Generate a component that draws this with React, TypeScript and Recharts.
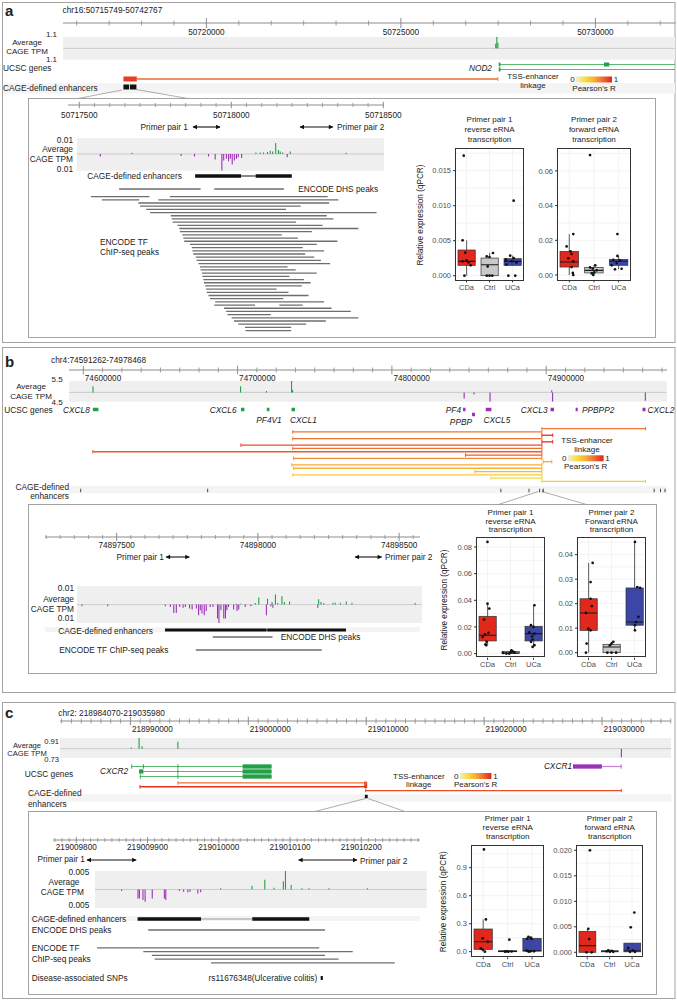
import React from "react";
import {
  ComposedChart,
  Line,
  Bar,
  Cell,
  Scatter,
  XAxis,
  YAxis,
  CartesianGrid,
  ReferenceLine,
} from "recharts";

const FONT = "'Liberation Sans', Arial, Helvetica, sans-serif";
const INK = "#222";
const GREEN = "#23a046";
const GREEN_LT = "#5bb96f";
const PURPLE = "#9a32b6";
const PURPLE_LT = "#c47fd6";
const PEAK = "#6e6e6e";
const AXIS = "#8c8c8c";
const FRAME = "#a3a3a3";
const ANCHOR = "#e5401d";
const M0 = { top: 0, right: 0, bottom: 0, left: 0 };

const GROUPS = ["CDa", "Ctrl", "UCa"];
const GROUP_COLORS = ["#e2271d", "#c9c9c9", "#3b46a6"];

// Pearson's R colour ramp (legend + linkage lines)
const R_STOPS: [number, string][] = [
  [0, "#efeed6"],
  [0.25, "#f7df3e"],
  [0.5, "#f8ad38"],
  [0.75, "#ef6a32"],
  [1, "#e2231a"],
];

// ---------------- panel a ----------------
const A_MAJOR = [50720000, 50725000, 50730000];
const A_CAGE = [[50727440, 0.45], [50727468, 1.1], [50727495, 0.55]];
const A_TX = [[50727525, 50766988], [50727525, 50766988]];
const A_EXONS = [
  [[50727515, 50727560], [50730222, 50730356]],
  [[50727515, 50727560]],
];
const A_LINKS = [[50718201, 50727491, 0.75]];
const A_ANCHOR = [50717867, 50718214];
const A_ENH = [[50717867, 50718013], [50718034, 50718201]];

const IA_MAJOR = [50717500, 50718000, 50718500];
const IA_PRIMERS = [[50717874, 50717963], [50718226, 50718334]];
const IA_CAGE = [
  [50717568, -0.0015], [50717672, 0.0008], [50717834, -0.0012], [50717878, -0.0015],
  [50717924, -0.0015], [50717946, -0.0035], [50717968, -0.0105], [50717974, -0.004],
  [50717983, -0.003], [50717990, -0.0045], [50717996, -0.003], [50718002, -0.0065],
  [50718009, -0.004], [50718016, -0.003], [50718022, -0.002], [50718033, -0.0025],
  [50718080, 0.001], [50718094, 0.001], [50718105, 0.001], [50718118, 0.0012],
  [50718127, 0.002], [50718135, 0.0015], [50718145, 0.0069], [50718154, 0.0025],
  [50718160, 0.0015], [50718168, 0.001], [50718183, -0.002], [50718193, 0.0015],
  [50718377, 0.0008],
];
const IA_ENH = [[50717881, 50718032], [50718080, 50718199]];
const IA_DHS = [[50717631, 50717899], [50717944, 50718173]];
const IA_TF = [
  [[50717538, 50717731], [50717798, 50718317]],
  [[50717574, 50717697], [50717760, 50718352]],
  [[50717694, 50718322]], [[50717700, 50718228]], [[50717720, 50718180]],
  [[50717733, 50718478]], [[50717801, 50718314]], [[50717804, 50718336]],
  [[50717807, 50718213]], [[50717823, 50718300]], [[50717829, 50718418]],
  [[50717831, 50718265]], [[50717839, 50718166]], [[50717842, 50718219]],
  [[50717845, 50718349]], [[50717864, 50718281]], [[50717870, 50718235]],
  [[50717872, 50718305]], [[50717875, 50718243]], [[50717883, 50718273]],
  [[50717886, 50718295]], [[50717892, 50718325]], [[50717897, 50718185]],
  [[50717899, 50718212]], [[50717903, 50718281]], [[50717905, 50718191]],
  [[50717908, 50718239]], [[50717910, 50718261]], [[50717914, 50718232]],
  [[50717917, 50718149]], [[50717919, 50718188]], [[50717925, 50718254]],
  [[50717930, 50718171]], [[50717947, 50718305]],
  [[50717944, 50718078], [50718158, 50718235]],
  [[50717976, 50718330]], [[50717983, 50718393]], [[50717987, 50718130]],
  [[50718001, 50718418]], [[50718009, 50718311]], [[50718023, 50718246]],
  [[50718045, 50718197]], [[50718047, 50718197]],
];

// box plots: [lo whisker, q1, median, q3, hi whisker] per group; points [x (group + jitter), value]
const A1_TICKS = [0, 0.005, 0.01, 0.015];
const A1_BOX = [
  [0, 0.00148, 0.00205, 0.00367, 0.00505],
  [0, 0, 0.00157, 0.00252, 0.00324],
  [0.0014, 0.00148, 0.00205, 0.00243, 0.00286],
];
const A1_PTS = [
  [0.88, 0.01714], [0.83, 0.00505], [0.95, 0.00329], [0.83, 0.00205], [1.09, 0.0019],
  [1.18, 0.00148], [1.0, 0.0022], [0.91, 0],
  [2.15, 0.00324], [1.88, 0.00276], [2.0, 0.00267], [1.92, 0.00133], [1.88, 0], [2.0, 0], [2.12, 0],
  [3.05, 0.01071], [2.9, 0.00286], [3.05, 0.0025], [2.71, 0.0023], [2.97, 0.00205],
  [3.17, 0.0019], [2.74, 0.0016], [2.82, 0], [3.12, 0],
];
const A2_TICKS = [0, 0.02, 0.04, 0.06];
const A2_BOX = [
  [0, 0.0046, 0.0075, 0.0136, 0.0236],
  [0, 0.0012, 0.0027, 0.0044, 0.0056],
  [0.0033, 0.0056, 0.0079, 0.009, 0.011],
];
const A2_PTS = [
  [1.16, 0.0236], [0.89, 0.0165], [1.05, 0.0136], [1.09, 0.0121], [0.96, 0.0096],
  [1.16, 0.0079], [1.09, 0.0046], [1.14, 0.0012], [1.16, 0],
  [1.84, 0.0691], [2.05, 0.0056], [1.84, 0.0044], [1.95, 0.0037], [2.11, 0.0027], [2.01, 0.0015], [1.97, 0], [1.91, 0.0009],
  [2.95, 0.0236], [2.95, 0.011], [2.78, 0.0088], [3.05, 0.0084], [2.92, 0.0069],
  [2.72, 0.0056], [2.85, 0.0033], [3.12, 0.0036],
];

// ---------------- panel b ----------------
const B_MAJOR = [74600000, 74700000, 74800000, 74900000];
const B_CAGE = [
  [74606168, 3.0], [74701892, 3.0], [74718672, 0.7], [74734942, 5.5], [74735600, 1.2],
  [74903642, 1.0], [74846862, -3.0], [74853282, -1.0], [74863652, -4.5],
  [74904222, -4.5], [74964362, -4.0],
];
// [start, end, strand, lane]
const B_GENES = [
  [74606168, 74609797, 1, 0], // CXCL8
  [74702216, 74704419, 1, 0], // CXCL6
  [74718936, 74720621, 1, 0], // PF4V1
  [74734942, 74737210, 1, 0], // CXCL1
  [74846085, 74847705, -1, 0], // PF4
  [74851918, 74853862, -1, 1], // PPBP
  [74860797, 74864492, -1, 0], // CXCL5
  [74902802, 74905070, -1, 0], // CXCL3
  [74919069, 74920430, -1, 0], // PPBPP2
  [74962419, 74964362, -1, 0], // CXCL2
];
// [TSS end, other end, Pearson's R]
const B_LINKS = [
  [74897212, 74964362, 0.7], [74735722, 74897212, 0.7], [74897212, 74904222, 0.97],
  [74735722, 74897212, 0.72], [74897212, 74904222, 0.97], [74702152, 74897212, 0.85],
  [74735722, 74897212, 0.72], [74606168, 74897212, 0.8], [74847712, 74897212, 0.8],
  [74736302, 74897212, 0.62], [74898062, 74903642, 0.52], [74735142, 74897212, 0.5],
  [74736302, 74897212, 0.47], [74853862, 74897212, 0.44], [74735722, 74897212, 0.36],
  [74864172, 74897212, 0.28], [74897212, 74964362, 0.33],
];
const B_ENH = [
  [74598100, 74598600], [74680400, 74680900], [74870400, 74870900], [74888600, 74889100],
  [74895550, 74896050], [74897671, 74898312], [74969700, 74970200], [74973900, 74974400],
  [74976750, 74977250],
];

const IB_MAJOR = [74897500, 74898000, 74898500];
const IB_PRIMERS = [[74897675, 74897757], [74898344, 74898438]];
const IB_CAGE = [
  [74897376, -0.001], [74897467, -0.001], [74897671, -0.001], [74897689, -0.0015],
  [74897701, -0.0052], [74897710, -0.0052], [74897722, -0.0015], [74897734, -0.002],
  [74897742, -0.0015], [74897757, -0.0025], [74897766, -0.003], [74897781, -0.0025],
  [74897789, -0.0067], [74897795, -0.0035], [74897801, -0.0056], [74897809, -0.0067],
  [74897816, -0.004], [74897830, -0.0015], [74897840, -0.0015], [74897856, -0.0087],
  [74897861, -0.0119], [74897868, -0.0035], [74897878, -0.0087], [74897884, -0.0087],
  [74897889, -0.0035], [74897895, -0.0015], [74897913, -0.003], [74897925, -0.004],
  [74897931, -0.003], [74897954, -0.0015], [74897974, -0.001], [74898029, -0.0067],
  [74898045, -0.001], [74898052, -0.002], [74898211, -0.002],
  [74897922, 0.0006], [74897937, 0.0006], [74897990, 0.001], [74898002, 0.0044],
  [74898033, 0.0037], [74898049, 0.0017], [74898061, 0.0064], [74898069, 0.001],
  [74898084, 0.0052], [74898093, 0.0017], [74898111, 0.002], [74898214, 0.0033],
  [74898222, 0.0017], [74898232, 0.001], [74898265, 0.0012], [74898273, 0.0012],
  [74898291, 0.0012], [74898312, 0.002], [74898332, 0.0012], [74898556, 0.001],
];
const IB_ENH = [[74897671, 74898031], [74898033, 74898312]];
const IB_DHS = [[74897840, 74898052]];
const IB_TF = [[74897780, 74898226]];

const B1_TICKS = [0, 0.02, 0.04, 0.06, 0.08];
const B1_BOX = [
  [0.0063, 0.0095, 0.01375, 0.028, 0.0375],
  [0, 0, 0.0005, 0.0015, 0.0025],
  [0.005, 0.0095, 0.015, 0.0205, 0.0363],
];
const B1_PTS = [
  [1.0, 0.0838], [1.0, 0.0375], [1.08, 0.0338], [0.85, 0.0255], [1.04, 0.0155],
  [0.89, 0.0145], [0.79, 0.0125], [0.96, 0.0088], [0.91, 0.007], [0.94, 0.0063],
  [1.68, 0.0005], [1.82, 0], [2.0, 0.001], [2.11, 0.0015], [2.18, 0.0008], [1.94, 0], [2.04, 0.0025],
  [3.04, 0.0363], [2.89, 0.0213], [3.0, 0.02], [2.82, 0.016], [3.04, 0.015],
  [2.94, 0.013], [2.96, 0.0105], [2.89, 0.0088], [3.04, 0.0063], [2.96, 0.005],
];
const B2_TICKS = [0, 0.01, 0.02, 0.03, 0.04];
const B2_BOX = [
  [0, 0.0091, 0.0162, 0.022, 0.0366],
  [0, 0, 0.0023, 0.0034, 0.0044],
  [0.0091, 0.0112, 0.0125, 0.0264, 0.0452],
];
const B2_PTS = [
  [1.18, 0.0366], [1.09, 0.0288], [1.09, 0.022], [1.14, 0.019], [0.89, 0.0162],
  [0.99, 0.0098], [1.09, 0.0091], [0.92, 0.0037], [0.89, 0],
  [2.08, 0.0044], [2.0, 0.0037], [1.93, 0.003], [1.82, 0], [2.0, 0], [2.2, 0],
  [3.02, 0.0452], [3.12, 0.0268], [3.24, 0.0264], [3.17, 0.0146], [3.07, 0.0125],
  [3.02, 0.0112], [3.02, 0.0091],
];

// ---------------- panel c ----------------
const C_MAJOR = [218990000, 219000000, 219010000, 219020000, 219030000];
const C_CAGE = [
  [218990075, 0.1], [218990737, 0.91], [218990991, 0.2], [218994028, 0.6], [219031644, -0.73],
];
const C_TX = [[218990075, 219001975], [218990737, 219001975], [218990804, 219001975]];
const C_EXONS = [
  [[218990075, 218990150], [218991060, 218991140], [218993990, 218994070], [218999515, 219001975]],
  [[218990737, 218991101], [218993990, 218994070], [218999515, 219001975]],
  [[218990804, 218990880], [218993990, 218994070], [218999515, 219001975]],
];
const C_TX_MINUS = [[219029990, 219031644]];
const C_EXONS_MINUS = [[[219027539, 219029990], [219031590, 219031644]]];
const C_LINKS = [
  [218994028, 219009956, 0.72],
  [218990804, 219009956, 0.95],
  [219009956, 219031644, 0.85],
];
const C_ANCHOR = 219009956;
const C_ENH = [[219009886, 219010127]];

const IC_MAJOR = [219009800, 219009900, 219010000, 219010100, 219010200];
const IC_PRIMERS = [[219009815, 219009884], [219010112, 219010194]];
const IC_CAGE = [
  [219009864, -0.00045], [219009887, -0.0025], [219009889, -0.0025], [219009894, -0.0029],
  [219009897, -0.0034], [219009907, -0.0025], [219009924, -0.0025], [219009926, -0.0029],
  [219009945, -0.00045], [219009951, -0.00064], [219009957, -0.0008], [219009960, -0.00064],
  [219009971, -0.0011], [219009975, -0.0008], [219010003, 0.00036], [219010047, 0.001],
  [219010065, 0.0027], [219010078, 0.00045], [219010091, 0.0023], [219010094, 0.0051],
  [219010102, 0.0012], [219010117, 0.00036], [219010127, 0.00036], [219010155, 0.00036],
  [219010209, 0.00036],
];
const IC_ENH = [[219009886, 219009975], [219010047, 219010127]];
const IC_DHS = [[219009901, 219010149]];
const IC_TF = [
  [[219009829, 219010141]], [[219009894, 219010188]], [[219009906, 219010149]],
  [[219009910, 219010168]], [[219009989, 219010247]],
];
const IC_SNP = [[219010143, 219010146]];

const C1_TICKS = [0, 0.3, 0.6, 0.9];
const C1_BOX = [
  [0, 0.025, 0.107, 0.243, 0.346],
  [0, 0, 0.003, 0.01, 0.011],
  [0, 0.007, 0.01, 0.143, 0.16],
];
const C1_PTS = [
  [1.03, 1.096], [1.11, 0.346], [0.98, 0.143], [1.18, 0.107], [0.9, 0.036], [0.98, 0.021], [1.07, 0],
  [2.07, 0.129], [2.03, 0], [1.89, 0], [2.16, 0.002], [1.96, 0.004],
  [2.85, 0.16], [2.94, 0.15], [2.8, 0.139], [2.98, 0.136], [2.78, 0.011], [2.94, 0.004],
  [3.08, 0.004], [2.86, 0],
];
const C2_TICKS = [0, 0.005, 0.01, 0.015, 0.02];
const C2_BOX = [
  [0, 0, 0.0013, 0.0041, 0.0046],
  [0, 0.0001, 0.0002, 0.0003, 0.0004],
  [0, 0.0001, 0.0003, 0.0018, 0.0018],
];
const C2_PTS = [
  [1.12, 0.02], [1.05, 0.0046], [1.09, 0.0026], [0.97, 0], [1.2, 0],
  [1.94, 0.0004], [2.09, 0.0003], [2.16, 0.0001], [2.01, 0.0001], [1.87, 0.0002],
  [3.1, 0.0078], [2.94, 0.0049], [2.83, 0.0008], [3.03, 0.0004], [2.91, 0.0001], [3.13, 0.0001],
];

// pixel position of a reference base + pixels per base
type Sc = { px: number; bp: number; k: number };
const A_SC: Sc = { px: 206, bp: 50720000, k: 0.0389 };
const IA_SC: Sc = { px: 79.3, bp: 50717500, k: 0.304 };
const B_SC: Sc = { px: 83.3, bp: 74600000, k: 0.001543 };
const IB_SC: Sc = { px: 116.7, bp: 74897500, k: 0.2824 };
const C_SC: Sc = { px: 130.8, bp: 218990000, k: 0.01179 };
const IC_SC: Sc = { px: 76, bp: 219009800, k: 0.7125 };

const dom = (s: Sc, l: number, r: number): [number, number] => [
  s.bp + (l - s.px) / s.k,
  s.bp + (r - s.px) / s.k,
];

function hex(c: string) {
  return [1, 3, 5].map((i) => parseInt(c.slice(i, i + 2), 16));
}
function rColor(r: number) {
  for (let i = 1; i < R_STOPS.length; i++) {
    const [r0, c0] = R_STOPS[i - 1];
    const [r1, c1] = R_STOPS[i];
    if (r <= r1) {
      const t = (r - r0) / (r1 - r0);
      const a = hex(c0);
      const b = hex(c1);
      return `rgb(${a.map((v, j) => Math.round(v + (b[j] - v) * t)).join(",")})`;
    }
  }
  return R_STOPS[R_STOPS.length - 1][1];
}

// ---------- marks ----------
function seg(k: string, x1: number, x2: number, y1: number, y2: number, stroke: string, w: number, dot: any = false) {
  return (
    <Line
      key={k}
      data={[{ x: x1, y: y1 }, { x: x2, y: y2 }]}
      dataKey="y"
      stroke={stroke}
      strokeWidth={w}
      dot={dot}
      activeDot={false}
      isAnimationActive={false}
      legendType="none"
    />
  );
}

const capDot = (c: string) => (p: any) => (
  <line key={p.index} x1={p.cx} x2={p.cx} y1={p.cy - 1.8} y2={p.cy + 1.8} stroke={c} strokeWidth={1} />
);

const arrowDot = (p: any) => {
  const d = p.index === 0 ? -1 : 1;
  return <path key={p.index} d={`M${p.cx + d * 0.5},${p.cy} l${-d * 4.5},-2.2 l0,4.4 z`} fill="#111" />;
};

const rowSegs = (id: string, rows: number[][][], stroke: string, w: number) =>
  rows.flatMap((row, i) => row.map(([s, e], j) => seg(`${id}${i}-${j}`, s, e, i + 0.5, i + 0.5, stroke, w)));

const spikes = (id: string, data: number[][]) =>
  data.map(([p, v], i) => seg(`${id}${i}`, p, p, 0, v, v > 0 ? GREEN : PURPLE, 1.1));

const links = (id: string, data: number[][]) =>
  data.map(([s, e, r], i) => {
    const c = rColor(r);
    return seg(`${id}${i}`, s, e, i + 0.5, i + 0.5, c, 1.3, capDot(c));
  });

const primers = (id: string, data: number[][]) =>
  data.map(([s, e], i) => seg(`${id}${i}`, s, e, 0.5, 0.5, "#111", 1.1, arrowDot));

const joined = (id: string, blocks: number[][], join: string, w: number) => [
  ...blocks.slice(1).map((b, i) => seg(`${id}j${i}`, blocks[i][1], b[0], 0.5, 0.5, join, 1)),
  ...blocks.map(([s, e], i) => seg(`${id}b${i}`, s, e, 0.5, 0.5, "#111", w)),
];

// ---------- chart building blocks ----------
function Track({ sc, l, r, t, h, y, rev, fill, children }: any) {
  const w = r - l;
  return (
    <div style={{ position: "absolute", left: l, top: t, width: w, height: h }}>
      <ComposedChart width={w} height={h} margin={M0}>
        {fill ? <CartesianGrid fill={fill} stroke="none" horizontal={false} vertical={false} /> : null}
        <XAxis type="number" dataKey="x" domain={dom(sc, l, r)} allowDataOverflow hide />
        <YAxis type="number" domain={y} allowDataOverflow hide reversed={!!rev} />
        {children}
      </ComposedChart>
    </div>
  );
}

function Cage({ sc, l, r, t, b, y, data, id }: any) {
  return (
    <Track sc={sc} l={l} r={r} t={t} h={b - t} y={y} fill="#efefef">
      <ReferenceLine y={0} stroke="#c2c2c2" strokeWidth={0.8} />
      {spikes(id, data)}
    </Track>
  );
}

function GenomeAxis({ sc, l, r, y, majors, step, anchor, dy, hMaj, hMin = 2.2 }: any) {
  const d = dom(sc, l, r);
  const ticks: number[] = [];
  const first = majors[0] - Math.floor((majors[0] - d[0]) / step) * step;
  for (let v = first; v <= d[1]; v += step) ticks.push(v);
  const isMajor = (v: number) => majors.some((m: number) => Math.abs(m - v) < step / 10);
  const pad = 30;
  const w = r - l + 2 * pad;
  return (
    <div style={{ position: "absolute", left: l - pad, top: y - 7, width: w, height: 26 }}>
      <ComposedChart width={w} height={26} margin={{ top: 0, bottom: 0, left: pad, right: pad }} data={[{ x: d[0] }, { x: d[1] }]}>
        <XAxis
          type="number"
          dataKey="x"
          domain={d}
          allowDataOverflow
          ticks={ticks}
          interval={0}
          height={19}
          tickSize={0}
          tickMargin={0}
          tickLine={false}
          axisLine={{ stroke: AXIS, strokeWidth: 1 }}
          tick={(p: any) => {
            const v = p.payload.value;
            const m = isMajor(v);
            const h = m ? hMaj : hMin;
            return (
              <g>
                <line x1={p.x} x2={p.x} y1={p.y - h} y2={p.y + h} stroke={AXIS} strokeWidth={m ? 1 : 0.8} />
                {m ? (
                  <text
                    x={anchor === "start" ? p.x + 1.5 : p.x}
                    y={p.y + dy}
                    textAnchor={anchor}
                    dominantBaseline="central"
                    fontSize={8.2}
                    fontFamily={FONT}
                    fill={INK}
                  >
                    {Math.round(v)}
                  </text>
                ) : null}
              </g>
            );
          }}
        />
        <YAxis hide />
      </ComposedChart>
    </div>
  );
}

function BoxShape(p: any) {
  const { x, y, width, height, payload, fill } = p;
  const top = Math.min(y, y + height);
  const bot = Math.max(y, y + height);
  const { lo, q1, med, q3, hi } = payload;
  const py = (v: number) => bot - ((v - lo) / (hi - lo || 1)) * (bot - top);
  const cx = x + width / 2;
  return (
    <g>
      <line x1={cx} x2={cx} y1={py(lo)} y2={py(hi)} stroke="#333" strokeWidth={0.8} />
      <rect x={x} y={py(q3)} width={width} height={Math.max(py(q1) - py(q3), 0.6)} fill={fill} stroke="#333" strokeWidth={0.7} />
      <line x1={x} x2={x + width} y1={py(med)} y2={py(med)} stroke="#1a1a1a" strokeWidth={1.1} />
    </g>
  );
}

function BoxPlot({ fl, ft, fw, fh, yDom, ticks, dec, box, pts }: any) {
  const yw = 32;
  const xh = 16;
  const rows = GROUPS.map((g, i) => ({ g, lo: box[i][0], q1: box[i][1], med: box[i][2], q3: box[i][3], hi: box[i][4] }));
  const dots = pts.map(([x, y]: number[]) => ({ x, y }));
  const step = ticks[1] - ticks[0];
  const grid = [...ticks, ...ticks.map((t: number) => t + step / 2), ticks[0] - step / 2].filter(
    (v: number) => v > yDom[0] && v < yDom[1]
  );
  return (
    <div style={{ position: "absolute", left: fl - yw, top: ft, width: fw + yw, height: fh + xh }}>
      <ComposedChart width={fw + yw} height={fh + xh} data={rows} margin={M0}>
        <CartesianGrid stroke="#ebebeb" strokeWidth={0.6} horizontalValues={grid} />
        <XAxis
          dataKey="g"
          type="category"
          height={xh}
          interval={0}
          tickSize={2}
          tickMargin={2}
          axisLine={false}
          tickLine={{ stroke: "#333" }}
          tick={{ fontSize: 7.5, fill: "#4d4d4d", fontFamily: FONT }}
        />
        <XAxis xAxisId="n" type="number" dataKey="x" domain={[0.5, 3.5]} hide />
        <YAxis
          type="number"
          domain={yDom}
          allowDataOverflow
          ticks={ticks}
          interval={0}
          width={yw}
          tickSize={2}
          tickMargin={2}
          axisLine={false}
          tickLine={{ stroke: "#333" }}
          tickFormatter={(v: number) => v.toFixed(dec)}
          tick={{ fontSize: 7.5, fill: "#4d4d4d", fontFamily: FONT }}
        />
        <Bar dataKey={(d: any) => [d.lo, d.hi]} barSize={(fw / 3) * 0.75} shape={BoxShape} isAnimationActive={false}>
          {rows.map((_, i) => (
            <Cell key={i} fill={GROUP_COLORS[i]} />
          ))}
        </Bar>
        <Scatter
          xAxisId="n"
          data={dots}
          dataKey="y"
          isAnimationActive={false}
          shape={(p: any) => <circle cx={p.cx} cy={p.cy} r={1.35} fill="#111" />}
        />
      </ComposedChart>
      <div
        style={{
          position: "absolute",
          left: yw,
          top: 0,
          width: fw,
          height: fh,
          border: "1px solid #333",
          boxSizing: "border-box",
          pointerEvents: "none",
        }}
      />
    </div>
  );
}

// ---------- static text, frames, legends ----------
function L({ x, y, a = "start", s = 8.3, i, b, c = INK, r, children }: any) {
  return (
    <text
      x={x}
      y={y}
      textAnchor={a}
      dominantBaseline="central"
      fontSize={s}
      fontStyle={i ? "italic" : undefined}
      fontWeight={b ? "bold" : undefined}
      fill={c}
      transform={r ? `rotate(-90 ${x} ${y})` : undefined}
    >
      {children}
    </text>
  );
}

function Legend({ x, y, w, tx, ty }: any) {
  return (
    <g>
      <L x={tx} y={ty - 0.4} a="middle" s={8}>TSS-enhancer</L>
      <L x={tx} y={ty + 8.2} a="middle" s={8}>linkage</L>
      <L x={x - 3.5} y={y} a="middle" s={8}>0</L>
      <rect x={x} y={y - 3} width={w} height={6} fill="url(#rg)" />
      <L x={x + w + 4} y={y} a="middle" s={8}>1</L>
      <L x={x + w / 2} y={y + 8.6} a="middle" s={8}>Pearson's R</L>
    </g>
  );
}

function Titles({ cx, y, lines, gap }: any) {
  return (
    <g>
      {lines.map((t: string, i: number) => (
        <L key={i} x={cx} y={y + i * gap} a="middle" s={8}>
          {t}
        </L>
      ))}
    </g>
  );
}

// frames, bands and zoom connectors (behind the charts)
function Back() {
  return (
    <svg width={677} height={1000} style={{ position: "absolute", left: 0, top: 0 }}>
      <rect x={2.5} y={2.5} width={672.5} height={340} fill="none" stroke={FRAME} />
      <rect x={3} y={83} width={672} height={10.5} fill="#f4f4f4" />
      <rect x={28.5} y={98.5} width={627} height={239} fill="none" stroke={FRAME} />
      <line x1={122} y1={90} x2={78} y2={98.5} stroke="#999" strokeWidth={0.8} />
      <line x1={136} y1={89.5} x2={188} y2={98.5} stroke="#999" strokeWidth={0.8} />

      <rect x={2.5} y={347.5} width={672.5} height={345} fill="none" stroke={FRAME} />
      <rect x={69} y={486} width={598} height={7.3} fill="#f4f4f4" />
      <rect x={28.5} y={504.5} width={628} height={169} fill="none" stroke={FRAME} />
      <rect x={45} y={627} width={375} height={5} fill="#f4f4f4" />
      <line x1={538.5} y1={491.5} x2={498.3} y2={504.5} stroke="#999" strokeWidth={0.8} />
      <line x1={541.7} y1={491.5} x2={586.7} y2={504.5} stroke="#999" strokeWidth={0.8} />

      <rect x={2.5} y={702.5} width={672.5} height={296} fill="none" stroke={FRAME} />
      <rect x={28} y={794.3} width={643.4} height={7.2} fill="#f4f4f4" />
      <rect x={28.5} y={811.5} width={628} height={183} fill="none" stroke={FRAME} />
      <rect x={30} y={916} width={390} height={5} fill="#f4f4f4" />
      <line x1={365.5} y1={798.5} x2={315} y2={811.5} stroke="#999" strokeWidth={0.8} />
      <line x1={368} y1={798.5} x2={405} y2={811.5} stroke="#999" strokeWidth={0.8} />
    </svg>
  );
}

// all labels (on top of the charts)
function Front() {
  return (
    <svg width={677} height={1000} style={{ position: "absolute", left: 0, top: 0, pointerEvents: "none" }} fontFamily={FONT}>
      <defs>
        <linearGradient id="rg" x1="0" x2="1" y1="0" y2="0">
          {R_STOPS.map(([o, c]) => (
            <stop key={o} offset={o} stopColor={c} />
          ))}
        </linearGradient>
      </defs>

      {/* panel a */}
      <L x={5} y={10.5} s={15} b>a</L>
      <L x={62.6} y={9.5}>chr16:50715749-50742767</L>
      <L x={57} y={34.5} a="end" s={8}>1.1</L>
      <L x={27} y={42.3} a="middle" s={8}>Average</L>
      <L x={27} y={51.5} a="middle" s={8}>CAGE TPM</L>
      <L x={57} y={59.3} a="end" s={8}>1.1</L>
      <L x={3} y={68.3}>UCSC genes</L>
      <L x={492} y={68.3} a="end" i>NOD2</L>
      <Legend x={576} y={79.5} w={36} tx={533} ty={77.3} />
      <L x={3} y={88.3}>CAGE-defined enhancers</L>
      <L x={188} y={127.3} a="end">Primer pair 1</L>
      <L x={337} y={127.3}>Primer pair 2</L>
      <L x={73} y={140} a="end">0.01</L>
      <L x={73} y={149} a="end">Average</L>
      <L x={73} y={159.3} a="end">CAGE TPM</L>
      <L x={73} y={169} a="end">0.01</L>
      <L x={87.3} y={176}>CAGE-defined enhancers</L>
      <L x={298.3} y={189}>ENCODE DHS peaks</L>
      <L x={100} y={241.7}>ENCODE TF</L>
      <L x={100} y={251.7}>ChIP-seq peaks</L>
      <L x={420.7} y={215} a="middle" s={8.2} r>Relative expression (qPCR)</L>
      <Titles cx={489.5} y={119} gap={10.2} lines={["Primer pair 1", "reverse eRNA", "transcription"]} />
      <Titles cx={594} y={119} gap={10.2} lines={["Primer pair 2", "forward eRNA", "transcription"]} />

      {/* panel b */}
      <L x={5} y={361} s={15} b>b</L>
      <L x={51} y={360}>chr4:74591262-74978468</L>
      <L x={62.6} y={379.7} a="end" s={8}>5.5</L>
      <L x={31} y={386.7} a="middle" s={8}>Average</L>
      <L x={31} y={396.2} a="middle" s={8}>CAGE TPM</L>
      <L x={62.6} y={402.5} a="end" s={8}>4.5</L>
      <L x={4.3} y={410}>UCSC genes</L>
      <L x={89.8} y={410} a="end" i>CXCL8</L>
      <L x={236.6} y={410} a="end" i>CXCL6</L>
      <L x={461} y={410} a="end" i>PF4</L>
      <L x={547.5} y={410} a="end" i>CXCL3</L>
      <L x={582} y={410} i>PPBPP2</L>
      <L x={647.5} y={410} i>CXCL2</L>
      <L x={269} y={419.5} a="middle" i>PF4V1</L>
      <L x={290} y={419.5} i>CXCL1</L>
      <L x={472} y={421.5} a="end" i>PPBP</L>
      <L x={483.6} y={419.5} i>CXCL5</L>
      <Legend x={567.8} y={458.3} w={35.8} tx={587} ty={441} />
      <L x={69} y={486.7} a="end">CAGE-defined</L>
      <L x={69} y={495.5} a="end">enhancers</L>
      <L x={164} y={556.7} a="end">Primer pair 1</L>
      <L x={385} y={556.7}>Primer pair 2</L>
      <L x={74} y={588.3} a="end">0.01</L>
      <L x={74} y={599} a="end">Average</L>
      <L x={74} y={609} a="end">CAGE TPM</L>
      <L x={74} y={618.3} a="end">0.01</L>
      <L x={58.3} y={630.7}>CAGE-defined enhancers</L>
      <L x={280.7} y={636.5}>ENCODE DHS peaks</L>
      <L x={59.3} y={650}>ENCODE TF ChIP-seq peaks</L>
      <L x={444} y={600} a="middle" s={8.2} r>Relative expression (qPCR)</L>
      <Titles cx={510.5} y={512.7} gap={8.3} lines={["Primer pair 1", "reverse eRNA", "transcription"]} />
      <Titles cx={611.5} y={512.7} gap={8.3} lines={["Primer pair 2", "Forward eRNA", "transcription"]} />

      {/* panel c */}
      <L x={5} y={712.5} s={15} b>c</L>
      <L x={58.3} y={712.7}>chr2: 218984070-219035980</L>
      <L x={59} y={741.8} a="end" s={7.6}>0.91</L>
      <L x={27} y={745.5} a="middle" s={7.6}>Average</L>
      <L x={27} y={753.3} a="middle" s={7.6}>CAGE TPM</L>
      <L x={59} y={759.2} a="end" s={7.6}>0.73</L>
      <L x={49} y={774} a="middle">UCSC genes</L>
      <L x={128.2} y={770.7} a="end" i>CXCR2</L>
      <L x={572} y={766} a="end" i>CXCR1</L>
      <Legend x={459.8} y={776} w={31.6} tx={418.8} ty={776.5} />
      <L x={28} y={793.3}>CAGE-defined</L>
      <L x={28} y={803.5}>enhancers</L>
      <L x={85} y={859} a="end">Primer pair 1</L>
      <L x={360} y={861}>Primer pair 2</L>
      <L x={89.3} y={872.3} a="end">0.005</L>
      <L x={64} y={882.3} a="middle">Average</L>
      <L x={62.3} y={892.3} a="middle">CAGE TPM</L>
      <L x={89.3} y={905} a="end">0.005</L>
      <L x={31.7} y={919}>CAGE-defined enhancers</L>
      <L x={31.7} y={930.3}>ENCODE DHS peaks</L>
      <L x={31.7} y={947.7}>ENCODE TF</L>
      <L x={31.7} y={959}>ChIP-seq peaks</L>
      <L x={31.7} y={978.3}>Disease-associated SNPs</L>
      <L x={317.3} y={978.3} a="end">rs11676348(Ulcerative colitis)</L>
      <L x={443.3} y={901.7} a="middle" s={8.2} r>Relative expression (qPCR)</L>
      <Titles cx={507.7} y={818.3} gap={9.3} lines={["Primer pair 1", "reverse eRNA", "transcription"]} />
      <Titles cx={609.7} y={818.3} gap={9.3} lines={["Primer pair 2", "forward eRNA", "transcription"]} />
    </svg>
  );
}

export default function App() {
  const bGenes = B_GENES.map(([s, e, strand, lane], i) =>
    seg(`bg${i}`, s, e, lane + 0.5, lane + 0.5, strand > 0 ? GREEN : PURPLE, 3.5)
  );
  return (
    <div
      style={{
        position: "absolute",
        left: 0,
        top: 0,
        width: 677,
        height: 1000,
        background: "#fff",
        fontFamily: FONT,
        overflow: "hidden",
      }}
    >
      <Back />

      {/* ---- panel a, main tracks ---- */}
      <GenomeAxis sc={A_SC} l={62.6} r={675} y={23.3} majors={A_MAJOR} step={5000 / 6} anchor="middle" dy={10} hMaj={5} hMin={2.5} />
      <Cage sc={A_SC} l={62.6} r={675} t={37.3} b={60} y={[-1.1, 1.1]} data={A_CAGE} id="ac" />
      <Track sc={A_SC} l={62.6} r={675} t={61.5} h={10} y={[0, 2]} rev>
        {rowSegs("atx", A_TX.map((t) => [t]), GREEN_LT, 1)}
        {rowSegs("aex", A_EXONS, GREEN, 4)}
      </Track>
      <Track sc={A_SC} l={62.6} r={675} t={76} h={6} y={[0, 1]} rev>
        {links("al", A_LINKS)}
        {seg("aanc", A_ANCHOR[0], A_ANCHOR[1], 0.5, 0.5, ANCHOR, 5)}
      </Track>
      <Track sc={A_SC} l={62.6} r={675} t={84} h={6} y={[0, 1]} rev>
        {rowSegs("ae", [A_ENH], "#111", 5)}
      </Track>

      {/* ---- panel a, zoomed enhancer ---- */}
      <GenomeAxis sc={IA_SC} l={68} r={384} y={105} majors={IA_MAJOR} step={50} anchor="middle" dy={10.7} hMaj={3.3} hMin={2} />
      <Track sc={IA_SC} l={68} r={388} t={124.3} h={6} y={[0, 1]} rev>
        {primers("ap", IA_PRIMERS)}
      </Track>
      <Cage sc={IA_SC} l={76.7} r={384} t={138.3} b={171} y={[-0.01044, 0.01]} data={IA_CAGE} id="iac" />
      <Track sc={IA_SC} l={68} r={384} t={173} h={6} y={[0, 1]} rev>
        {joined("iae", IA_ENH, "#111", 3.5)}
      </Track>
      <Track sc={IA_SC} l={68} r={384} t={186} h={6} y={[0, 1]} rev>
        {rowSegs("iad", [IA_DHS], PEAK, 1.5)}
      </Track>
      <Track sc={IA_SC} l={68} r={384} t={195.1} h={137.2} y={[0, IA_TF.length]} rev>
        {rowSegs("iat", IA_TF, PEAK, 1.3)}
      </Track>
      <BoxPlot fl={455} ft={148.3} fw={69} fh={132.4} yDom={[-0.00067, 0.01824]} ticks={A1_TICKS} dec={3} box={A1_BOX} pts={A1_PTS} />
      <BoxPlot fl={557} ft={148.3} fw={74} fh={132.4} yDom={[-0.0031, 0.0732]} ticks={A2_TICKS} dec={2} box={A2_BOX} pts={A2_PTS} />

      {/* ---- panel b, main tracks ---- */}
      <GenomeAxis sc={B_SC} l={69} r={667} y={370} majors={B_MAJOR} step={12500} anchor="start" dy={8.3} hMaj={4.3} hMin={2.5} />
      <Cage sc={B_SC} l={69} r={667} t={381} b={401.7} y={[-4.5, 5.5]} data={B_CAGE} id="bc" />
      <Track sc={B_SC} l={69} r={667} t={406.8} h={10} y={[0, 2]} rev>
        {bGenes}
      </Track>
      <Track sc={B_SC} l={69} r={667} t={427.35} h={56.1} y={[0, B_LINKS.length]} rev>
        {links("bl", B_LINKS)}
      </Track>
      <Track sc={B_SC} l={69} r={667} t={487.5} h={5} y={[0, 1]} rev>
        {rowSegs("be", [B_ENH], "#111", 3.5)}
      </Track>

      {/* ---- panel b, zoomed enhancer ---- */}
      <GenomeAxis sc={IB_SC} l={45} r={420} y={537.3} majors={IB_MAJOR} step={50} anchor="middle" dy={8.7} hMaj={4.2} hMin={2} />
      <Track sc={IB_SC} l={45} r={420} t={553.7} h={6} y={[0, 1]} rev>
        {primers("bp", IB_PRIMERS)}
      </Track>
      <Cage sc={IB_SC} l={76.7} r={421.7} t={585.7} b={623.3} y={[-0.0119, 0.01165]} data={IB_CAGE} id="ibc" />
      <Track sc={IB_SC} l={45} r={420} t={626.5} h={6} y={[0, 1]} rev>
        {joined("ibe", IB_ENH, "#111", 3)}
      </Track>
      <Track sc={IB_SC} l={45} r={420} t={633.5} h={6} y={[0, 1]} rev>
        {rowSegs("ibd", [IB_DHS], PEAK, 1.5)}
      </Track>
      <Track sc={IB_SC} l={45} r={420} t={647} h={6} y={[0, 1]} rev>
        {rowSegs("ibt", [IB_TF], PEAK, 1.5)}
      </Track>
      <BoxPlot fl={476} ft={536.7} fw={69} fh={120.8} yDom={[-0.00315, 0.0875]} ticks={B1_TICKS} dec={2} box={B1_BOX} pts={B1_PTS} />
      <BoxPlot fl={577} ft={536.7} fw={69} fh={120.8} yDom={[-0.0021, 0.0472]} ticks={B2_TICKS} dec={2} box={B2_BOX} pts={B2_PTS} />

      {/* ---- panel c, main tracks ---- */}
      <GenomeAxis sc={C_SC} l={60.4} r={671.4} y={721} majors={C_MAJOR} step={10000 / 12} anchor="start" dy={8} hMaj={4.2} hMin={2.5} />
      <Cage sc={C_SC} l={60.4} r={671.4} t={737.5} b={757.5} y={[-0.8, 0.91]} data={C_CAGE} id="cc" />
      <Track sc={C_SC} l={60.4} r={671.4} t={763.5} h={15} y={[0, 3]} rev>
        {rowSegs("ctx", C_TX.map((t) => [t]), GREEN_LT, 1)}
        {rowSegs("cex", C_EXONS, GREEN, 4.3)}
        {rowSegs("cmx", C_TX_MINUS.map((t) => [t]), PURPLE_LT, 1.2)}
        {rowSegs("cme", C_EXONS_MINUS, PURPLE, 4.3)}
      </Track>
      <Track sc={C_SC} l={60.4} r={671.4} t={781.4} h={11.55} y={[0, C_LINKS.length]} rev>
        {links("cl", C_LINKS)}
        {seg("canc", C_ANCHOR, C_ANCHOR, 0.2, 1.8, ANCHOR, 3)}
      </Track>
      <Track sc={C_SC} l={60.4} r={671.4} t={794.3} h={5} y={[0, 1]} rev>
        {rowSegs("ce", [C_ENH], "#111", 3.5)}
      </Track>

      {/* ---- panel c, zoomed enhancer ---- */}
      <GenomeAxis sc={IC_SC} l={52.7} r={419.3} y={840} majors={IC_MAJOR} step={10} anchor="middle" dy={7.7} hMaj={3} hMin={2} />
      <Track sc={IC_SC} l={52.7} r={419.3} t={857} h={6} y={[0, 1]} rev>
        {primers("cp", IC_PRIMERS)}
      </Track>
      <Cage sc={IC_SC} l={95} r={426.7} t={871} b={908.3} y={[-0.0052, 0.0051]} data={IC_CAGE} id="icc" />
      <Track sc={IC_SC} l={52.7} r={419.3} t={915.5} h={6} y={[0, 1]} rev>
        {joined("ice", IC_ENH, "#9a9a9a", 3.5)}
      </Track>
      <Track sc={IC_SC} l={52.7} r={419.3} t={927.3} h={6} y={[0, 1]} rev>
        {rowSegs("icd", [IC_DHS], PEAK, 1.5)}
      </Track>
      <Track sc={IC_SC} l={52.7} r={419.3} t={945.8} h={18.75} y={[0, IC_TF.length]} rev>
        {rowSegs("ict", IC_TF, PEAK, 1.3)}
      </Track>
      <Track sc={IC_SC} l={52.7} r={419.3} t={975.3} h={6} y={[0, 1]} rev>
        {rowSegs("ics", [IC_SNP], "#111", 4)}
      </Track>
      <BoxPlot fl={471} ft={845} fw={73.3} fh={112.3} yDom={[-0.06, 1.143]} ticks={C1_TICKS} dec={1} box={C1_BOX} pts={C1_PTS} />
      <BoxPlot fl={576} ft={845} fw={67.3} fh={112.3} yDom={[-0.00098, 0.02104]} ticks={C2_TICKS} dec={3} box={C2_BOX} pts={C2_PTS} />

      <Front />
    </div>
  );
}
